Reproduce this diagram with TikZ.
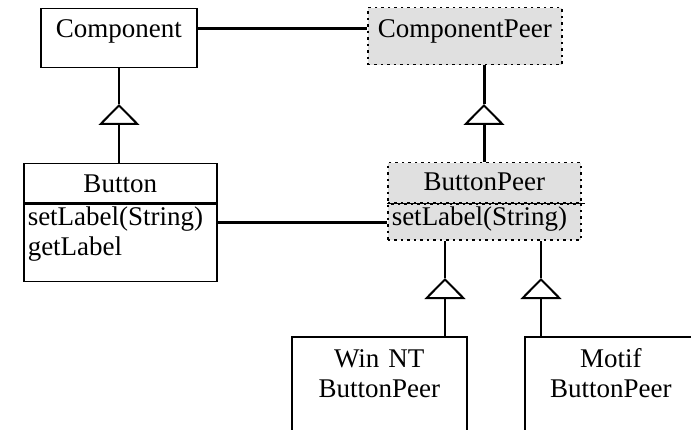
\documentclass[tikz,border=0pt]{standalone}
\usepackage{fontspec}
\setmainfont{Liberation Serif}
\usetikzlibrary{positioning, calc, arrows.meta}
\tikzset{%
  cls/.style = {rectangle, draw, line width=1.5pt, inner sep=0pt, fill=white},
  peer/.style = {rectangle, draw, line width=1.5pt, dash pattern=on 2.5pt off 4pt,
                 inner sep=0pt, fill=peergray},
  ops/.style = {align=left, inner xsep=4pt, inner ysep=0pt},
  assoc/.style = {line width=3pt},
  gen/.style = {line width=1.5pt},
  inherit/.style = {-{Triangle[open, length=21pt, width=41pt, line width=2pt]}}
  }
\definecolor{peergray}{RGB}{224,224,224}

\begin{document}
\begin{tikzpicture}[x=1pt, y=1pt, font=\fontsize{27}{30}\selectfont]
  \useasboundingbox (0,0) rectangle (691,429);
  \clip (0,0) rectangle (691,429);

  % classes on the left
  \node (comp) [cls, minimum width=156pt, text height=29pt, text depth=30pt,
                anchor=north west] at (40,421) {Component};
  \node (btn) [cls, minimum width=193pt, text height=29pt, text depth=10pt,
               anchor=north west] at (23,266) {Button};
  \node (btnops) [cls, ops, text width=185pt, text height=21pt, text depth=56pt,
                  below=0pt of btn] {setLabel(String)\\getLabel};

  % peers
  \node (cpeer) [peer, minimum width=194pt, text height=30pt, text depth=27pt,
                 anchor=north west] at (367,422) {ComponentPeer};
  \node (bpeer) [peer, minimum width=193pt, text height=28pt, text depth=12pt,
                 anchor=north west] at (387,267) {ButtonPeer};
  \node (bpops) [peer, ops, text width=185pt, text height=21pt, text depth=15pt,
                 below=0pt of bpeer] {setLabel(String)};
  \draw[gen] (bpeer.south west) -- ([xshift=3pt]bpeer.south east);

  \node (winnt) [cls, text width=175pt, align=center, text height=31pt,
                 text depth=83pt, anchor=north west] at (291,93) {Win NT\\ButtonPeer};
  \node (motif) [cls, text width=172pt, align=center, text height=31pt,
                 text depth=83pt, anchor=north west] at (524,93) {Motif\\ButtonPeer};

  % inheritance
  \coordinate (t1) at (119,325);
  \coordinate (t2) at (484,325);
  \coordinate (t3) at (445,151);
  \coordinate (t4) at (541,151);
  \draw[gen, inherit] (t1 |- btn.north) -- (t1);
  \draw[gen] (t1) -- (t1 |- comp.south);
  \draw[assoc, inherit] (t2 |- bpeer.north) -- (t2);
  \draw[assoc] (t2) -- (t2 |- cpeer.south);
  \draw[gen, inherit] (t3 |- winnt.north) -- (t3);
  \draw[gen] (t3) -- (t3 |- bpops.south);
  \draw[gen, inherit] (t4 |- motif.north) -- (t4);
  \draw[gen] (t4) -- (t4 |- bpops.south);

  % bridges
  \coordinate (cl) at ([yshift=9.5pt]comp.east);
  \draw[assoc] (cl) -- (cl -| cpeer.west);
  \draw[assoc] (btnops.east |- bpops.west) -- (bpops.west);
\end{tikzpicture}
\end{document}
